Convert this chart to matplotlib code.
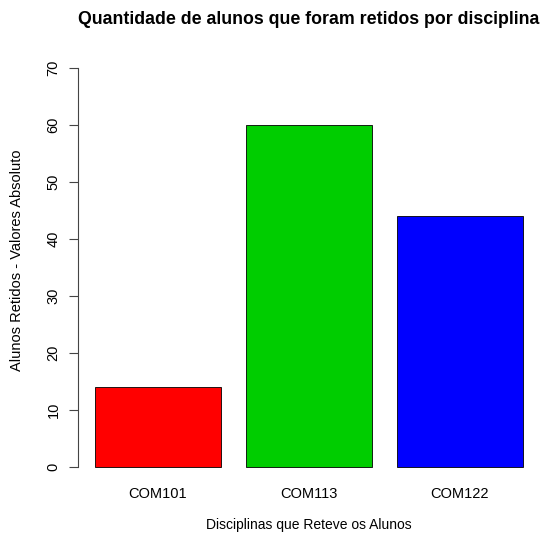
import matplotlib
matplotlib.use("Agg")
import matplotlib.pyplot as plt

# dados
disciplinas = ["COM101", "COM113", "COM122"]
retidos = [14, 60, 44]
cores = ["#FF0000", "#00CD00", "#0000FF"]
yticks = [0, 10, 20, 30, 40, 50, 60, 70]

plt.rcParams['font.family'] = ['Liberation Sans', 'DejaVu Sans']

W, H = 543, 535
fig = plt.figure(figsize=(W / 100, H / 100), dpi=100)
ax = fig.add_axes([78 / W, 1 - 483 / H, (540 - 78) / W, (483 - 52) / H])

# estilo barplot do R: largura 1, espaco 0.2
pos = [0.2 + 0.5 + i * 1.2 for i in range(len(retidos))]
ax.bar(pos, retidos, width=1.0, color=cores, edgecolor="black", linewidth=0.6)

ax.set_xlim(0.064, 3.736)
ax.set_ylim(-2.8, 72.8)

for s in ["top", "right", "bottom"]:
    ax.spines[s].set_visible(False)
ax.spines["left"].set_bounds(0, 70)
ax.spines["left"].set_color("#444444")

ax.set_yticks(yticks)
ax.set_yticklabels([str(v) for v in yticks], rotation=90, va="center", fontsize=10.5)
ax.tick_params(axis="y", length=6.5, width=0.8, color="#444444", pad=6)

ax.set_xticks(pos)
ax.set_xticklabels(disciplinas, fontsize=10.5)
ax.tick_params(axis="x", length=0, pad=3)

fig.text(309 / W, 1 - 20 / H, "Quantidade de alunos que foram retidos por disciplina",
         ha="center", va="center", fontsize=12.8, fontweight="bold")
fig.text(309 / W, 1 - 525 / H, "Disciplinas que Reteve os Alunos",
         ha="center", va="center", fontsize=10)
fig.text(17 / W, 1 - 260 / H, "Alunos Retidos - Valores Absoluto",
         ha="center", va="center", rotation=90, fontsize=10.5)

fig.savefig("out.png", dpi=100)
